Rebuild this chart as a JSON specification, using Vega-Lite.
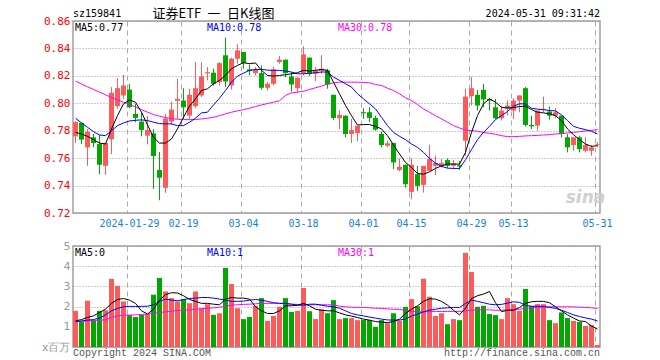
{
"$schema": "https://vega.github.io/schema/vega-lite/v6.json",
"background": "white",
"padding": {"left": 40, "top": 6, "right": 5, "bottom": 5},
"spacing": 10,
"config": {
  "view": {"stroke": "#a0a0a0", "strokeWidth": 1.5},
  "axis": {"title": null, "ticks": false, "domain": false, "labelOverlap": false, "labelBound": false}
},
"data": {"values": [
{"d":"2024-01-16","o":0.7759,"h":0.787,"l":0.771,"c":0.7862,"v":1.79,"m5":0.7788,"m10":0.7891,"m30":0.8162,"a5":1.29,"a10":1.26,"a30":1.26},
{"d":"2024-01-17","o":0.7857,"h":0.786,"l":0.7703,"c":0.7735,"v":1.26,"m5":0.7776,"m10":0.7857,"m30":0.814,"a5":1.36,"a10":1.29,"a30":1.28},
{"d":"2024-01-18","o":0.7679,"h":0.7813,"l":0.7544,"c":0.7793,"v":2.29,"m5":0.7759,"m10":0.7825,"m30":0.812,"a5":1.46,"a10":1.33,"a30":1.29},
{"d":"2024-01-19","o":0.7752,"h":0.7776,"l":0.7679,"c":0.771,"v":1.33,"m5":0.7735,"m10":0.7793,"m30":0.8101,"a5":1.54,"a10":1.36,"a30":1.31},
{"d":"2024-01-22","o":0.7703,"h":0.7769,"l":0.7483,"c":0.7552,"v":1.79,"m5":0.771,"m10":0.7769,"m30":0.8081,"a5":1.71,"a10":1.43,"a30":1.33},
{"d":"2024-01-23","o":0.7544,"h":0.7712,"l":0.7479,"c":0.771,"v":1.82,"m5":0.7703,"m10":0.7764,"m30":0.8062,"a5":1.87,"a10":1.59,"a30":1.34},
{"d":"2024-01-24","o":0.7738,"h":0.8118,"l":0.763,"c":0.8076,"v":3.37,"m5":0.7813,"m10":0.78,"m30":0.8042,"a5":2.16,"a10":1.79,"a30":1.46},
{"d":"2024-01-25","o":0.7979,"h":0.8184,"l":0.796,"c":0.811,"v":3.03,"m5":0.791,"m10":0.7837,"m30":0.8025,"a5":2.35,"a10":1.91,"a30":1.54},
{"d":"2024-01-26","o":0.8057,"h":0.8208,"l":0.8032,"c":0.813,"v":2.26,"m5":0.7996,"m10":0.7857,"m30":0.8008,"a5":2.4,"a10":1.99,"a30":1.58},
{"d":"2024-01-29","o":0.81,"h":0.8142,"l":0.7964,"c":0.7971,"v":1.58,"m5":0.8025,"m10":0.7871,"m30":0.7991,"a5":2.32,"a10":2.01,"a30":1.58},
{"d":"2024-01-30","o":0.7923,"h":0.7996,"l":0.7862,"c":0.7893,"v":1.49,"m5":0.8008,"m10":0.7876,"m30":0.7974,"a5":2.16,"a10":2.01,"a30":1.59},
{"d":"2024-01-31","o":0.7866,"h":0.7935,"l":0.7759,"c":0.7805,"v":1.59,"m5":0.7935,"m10":0.7879,"m30":0.7954,"a5":1.79,"a10":2.01,"a30":1.61},
{"d":"2024-02-01","o":0.7764,"h":0.7908,"l":0.7701,"c":0.7805,"v":1.63,"m5":0.7842,"m10":0.7874,"m30":0.7935,"a5":1.63,"a10":2.02,"a30":1.63},
{"d":"2024-02-02","o":0.7781,"h":0.7813,"l":0.7376,"c":0.7615,"v":2.59,"m5":0.7752,"m10":0.7862,"m30":0.7918,"a5":1.87,"a10":2.09,"a30":1.67},
{"d":"2024-02-05","o":0.7513,"h":0.7645,"l":0.7293,"c":0.7457,"v":3.42,"m5":0.771,"m10":0.7852,"m30":0.7906,"a5":2.32,"a10":2.26,"a30":1.71},
{"d":"2024-02-06","o":0.7383,"h":0.7922,"l":0.7347,"c":0.7889,"v":2.75,"m5":0.771,"m10":0.785,"m30":0.7896,"a5":2.59,"a10":2.37,"a30":1.74},
{"d":"2024-02-07","o":0.7866,"h":0.8013,"l":0.7842,"c":0.7954,"v":2.42,"m5":0.774,"m10":0.785,"m30":0.7888,"a5":2.69,"a10":2.32,"a30":1.77},
{"d":"2024-02-08","o":0.8018,"h":0.8179,"l":0.7886,"c":0.8032,"v":2.26,"m5":0.7813,"m10":0.7837,"m30":0.7884,"a5":2.67,"a10":2.29,"a30":1.81},
{"d":"2024-02-19","o":0.802,"h":0.811,"l":0.7886,"c":0.7971,"v":2.37,"m5":0.7898,"m10":0.7837,"m30":0.7881,"a5":2.54,"a10":2.35,"a30":1.82},
{"d":"2024-02-20","o":0.791,"h":0.8106,"l":0.7886,"c":0.8062,"v":2.17,"m5":0.7979,"m10":0.7862,"m30":0.7881,"a5":2.35,"a10":2.4,"a30":1.84},
{"d":"2024-02-21","o":0.7979,"h":0.83,"l":0.7964,"c":0.811,"v":2.75,"m5":0.8032,"m10":0.7891,"m30":0.7881,"a5":2.26,"a10":2.42,"a30":1.87},
{"d":"2024-02-22","o":0.8057,"h":0.83,"l":0.8045,"c":0.8196,"v":1.91,"m5":0.8093,"m10":0.793,"m30":0.7886,"a5":2.16,"a10":2.45,"a30":1.89},
{"d":"2024-02-23","o":0.8218,"h":0.8264,"l":0.8167,"c":0.8227,"v":2.12,"m5":0.8106,"m10":0.7935,"m30":0.7891,"a5":2.16,"a10":2.45,"a30":1.92},
{"d":"2024-02-26","o":0.8223,"h":0.8252,"l":0.813,"c":0.8142,"v":1.59,"m5":0.8142,"m10":0.7988,"m30":0.7898,"a5":2.12,"a10":2.42,"a30":1.94},
{"d":"2024-02-27","o":0.8154,"h":0.83,"l":0.813,"c":0.8293,"v":1.67,"m5":0.8167,"m10":0.8037,"m30":0.791,"a5":2.09,"a10":2.37,"a30":1.97},
{"d":"2024-02-28","o":0.835,"h":0.8479,"l":0.8118,"c":0.8159,"v":3.91,"m5":0.8203,"m10":0.8093,"m30":0.7923,"a5":2.37,"a10":2.32,"a30":2.02},
{"d":"2024-02-29","o":0.813,"h":0.8333,"l":0.81,"c":0.8325,"v":3.12,"m5":0.8252,"m10":0.8154,"m30":0.7935,"a5":2.45,"a10":2.26,"a30":2.07},
{"d":"2024-03-01","o":0.8325,"h":0.843,"l":0.8289,"c":0.8386,"v":1.92,"m5":0.8276,"m10":0.8198,"m30":0.7945,"a5":2.42,"a10":2.26,"a30":2.09},
{"d":"2024-03-04","o":0.8374,"h":0.8374,"l":0.8252,"c":0.8293,"v":1.38,"m5":0.8296,"m10":0.822,"m30":0.7954,"a5":2.42,"a10":2.27,"a30":2.11},
{"d":"2024-03-05","o":0.8247,"h":0.8281,"l":0.8203,"c":0.8235,"v":1.49,"m5":0.8289,"m10":0.824,"m30":0.7964,"a5":2.37,"a10":2.32,"a30":2.12},
{"d":"2024-03-06","o":0.822,"h":0.8264,"l":0.8203,"c":0.8247,"v":2.04,"m5":0.8294,"m10":0.8247,"m30":0.7976,"a5":1.99,"a10":2.35,"a30":2.14},
{"d":"2024-03-07","o":0.822,"h":0.8276,"l":0.81,"c":0.8113,"v":2.42,"m5":0.824,"m10":0.8247,"m30":0.7988,"a5":1.79,"a10":2.32,"a30":2.16},
{"d":"2024-03-08","o":0.8113,"h":0.8154,"l":0.8093,"c":0.8142,"v":1.29,"m5":0.8203,"m10":0.8242,"m30":0.7998,"a5":1.66,"a10":2.26,"a30":2.16},
{"d":"2024-03-11","o":0.8142,"h":0.8264,"l":0.813,"c":0.8247,"v":1.54,"m5":0.8198,"m10":0.824,"m30":0.8008,"a5":1.66,"a10":2.19,"a30":2.16},
{"d":"2024-03-12","o":0.8301,"h":0.8345,"l":0.8289,"c":0.8318,"v":1.99,"m5":0.8203,"m10":0.824,"m30":0.8018,"a5":1.79,"a10":2.16,"a30":2.16},
{"d":"2024-03-13","o":0.8318,"h":0.8318,"l":0.819,"c":0.822,"v":2.42,"m5":0.8208,"m10":0.8235,"m30":0.8057,"a5":2.04,"a10":2.16,"a30":2.14},
{"d":"2024-03-14","o":0.8196,"h":0.8228,"l":0.8086,"c":0.8137,"v":1.74,"m5":0.8215,"m10":0.8228,"m30":0.8076,"a5":2.04,"a10":2.12,"a30":2.12},
{"d":"2024-03-15","o":0.811,"h":0.8191,"l":0.8076,"c":0.8186,"v":1.79,"m5":0.8223,"m10":0.8215,"m30":0.8081,"a5":2.07,"a10":2.07,"a30":2.11},
{"d":"2024-03-18","o":0.822,"h":0.8415,"l":0.8203,"c":0.8357,"v":2.92,"m5":0.824,"m10":0.8215,"m30":0.8088,"a5":2.16,"a10":2.07,"a30":2.09},
{"d":"2024-03-19","o":0.8333,"h":0.8333,"l":0.8198,"c":0.8215,"v":1.77,"m5":0.8235,"m10":0.8218,"m30":0.8101,"a5":2.04,"a10":2.12,"a30":2.09},
{"d":"2024-03-20","o":0.8215,"h":0.8264,"l":0.816,"c":0.824,"v":1.38,"m5":0.824,"m10":0.8223,"m30":0.8113,"a5":1.87,"a10":2.12,"a30":2.09},
{"d":"2024-03-21","o":0.8235,"h":0.835,"l":0.8215,"c":0.8252,"v":1.87,"m5":0.8247,"m10":0.8228,"m30":0.8125,"a5":1.82,"a10":2.07,"a30":2.09},
{"d":"2024-03-22","o":0.824,"h":0.8252,"l":0.8106,"c":0.8137,"v":1.67,"m5":0.824,"m10":0.8228,"m30":0.814,"a5":1.79,"a10":2.02,"a30":2.09},
{"d":"2024-03-25","o":0.8062,"h":0.8062,"l":0.7879,"c":0.7893,"v":2.32,"m5":0.8154,"m10":0.8191,"m30":0.8149,"a5":1.79,"a10":1.99,"a30":2.09},
{"d":"2024-03-26","o":0.7891,"h":0.7947,"l":0.7813,"c":0.7915,"v":1.38,"m5":0.8069,"m10":0.8167,"m30":0.8154,"a5":1.69,"a10":1.92,"a30":2.02},
{"d":"2024-03-27","o":0.791,"h":0.791,"l":0.7752,"c":0.7776,"v":1.43,"m5":0.7984,"m10":0.8142,"m30":0.8154,"a5":1.59,"a10":1.79,"a30":1.99},
{"d":"2024-03-28","o":0.7776,"h":0.7886,"l":0.771,"c":0.7805,"v":1.43,"m5":0.791,"m10":0.8118,"m30":0.8154,"a5":1.53,"a10":1.66,"a30":1.97},
{"d":"2024-03-29","o":0.7783,"h":0.7837,"l":0.7723,"c":0.7837,"v":1.33,"m5":0.7842,"m10":0.8069,"m30":0.8154,"a5":1.46,"a10":1.59,"a30":1.96},
{"d":"2024-04-01","o":0.7935,"h":0.7964,"l":0.7886,"c":0.7927,"v":1.34,"m5":0.7845,"m10":0.8032,"m30":0.8152,"a5":1.38,"a10":1.54,"a30":1.96},
{"d":"2024-04-02","o":0.7935,"h":0.7971,"l":0.7862,"c":0.7893,"v":1.34,"m5":0.7845,"m10":0.7996,"m30":0.8149,"a5":1.33,"a10":1.48,"a30":1.94},
{"d":"2024-04-03","o":0.7893,"h":0.791,"l":0.78,"c":0.7808,"v":1.0,"m5":0.7832,"m10":0.7959,"m30":0.8137,"a5":1.26,"a10":1.43,"a30":1.92},
{"d":"2024-04-08","o":0.7776,"h":0.7793,"l":0.7679,"c":0.7696,"v":1.33,"m5":0.7813,"m10":0.7898,"m30":0.813,"a5":1.23,"a10":1.38,"a30":1.91},
{"d":"2024-04-09","o":0.7691,"h":0.7727,"l":0.7679,"c":0.7708,"v":1.18,"m5":0.7764,"m10":0.7837,"m30":0.811,"a5":1.21,"a10":1.34,"a30":1.89},
{"d":"2024-04-10","o":0.771,"h":0.771,"l":0.752,"c":0.7569,"v":1.67,"m5":0.7696,"m10":0.7788,"m30":0.8093,"a5":1.26,"a10":1.33,"a30":1.87},
{"d":"2024-04-11","o":0.7513,"h":0.7598,"l":0.7503,"c":0.7537,"v":1.29,"m5":0.763,"m10":0.7759,"m30":0.8069,"a5":1.38,"a10":1.33,"a30":1.86},
{"d":"2024-04-12","o":0.7552,"h":0.7552,"l":0.7386,"c":0.741,"v":1.99,"m5":0.7569,"m10":0.7735,"m30":0.804,"a5":1.66,"a10":1.39,"a30":1.81},
{"d":"2024-04-15","o":0.7354,"h":0.7598,"l":0.73,"c":0.7552,"v":2.37,"m5":0.7532,"m10":0.7703,"m30":0.802,"a5":1.87,"a10":1.53,"a30":1.77},
{"d":"2024-04-16","o":0.7483,"h":0.7544,"l":0.7361,"c":0.7398,"v":2.02,"m5":0.7488,"m10":0.7679,"m30":0.7991,"a5":2.04,"a10":1.63,"a30":1.74},
{"d":"2024-04-17","o":0.7405,"h":0.7544,"l":0.7349,"c":0.7544,"v":3.38,"m5":0.7483,"m10":0.7642,"m30":0.7959,"a5":2.26,"a10":1.74,"a30":1.74},
{"d":"2024-04-18","o":0.7508,"h":0.7696,"l":0.7503,"c":0.7593,"v":2.49,"m5":0.75,"m10":0.7598,"m30":0.7935,"a5":2.39,"a10":1.82,"a30":1.76},
{"d":"2024-04-19","o":0.7544,"h":0.7618,"l":0.7476,"c":0.7564,"v":1.54,"m5":0.7525,"m10":0.7564,"m30":0.791,"a5":2.37,"a10":1.87,"a30":1.76},
{"d":"2024-04-22","o":0.7544,"h":0.7593,"l":0.7532,"c":0.7564,"v":1.67,"m5":0.7544,"m10":0.754,"m30":0.7886,"a5":2.26,"a10":1.92,"a30":1.76},
{"d":"2024-04-23","o":0.7586,"h":0.7598,"l":0.7527,"c":0.7544,"v":1.13,"m5":0.7557,"m10":0.7527,"m30":0.7862,"a5":2.07,"a10":1.94,"a30":1.76},
{"d":"2024-04-24","o":0.7544,"h":0.7588,"l":0.752,"c":0.7561,"v":1.38,"m5":0.7557,"m10":0.7525,"m30":0.7837,"a5":1.82,"a10":1.96,"a30":1.76},
{"d":"2024-04-25","o":0.7549,"h":0.758,"l":0.7515,"c":0.7539,"v":1.33,"m5":0.7557,"m10":0.7525,"m30":0.782,"a5":1.59,"a10":1.96,"a30":1.76},
{"d":"2024-04-26","o":0.7727,"h":0.8105,"l":0.7618,"c":0.8049,"v":4.66,"m5":0.7642,"m10":0.7588,"m30":0.7805,"a5":1.92,"a10":2.16,"a30":1.79},
{"d":"2024-04-29","o":0.8052,"h":0.8191,"l":0.7984,"c":0.811,"v":3.71,"m5":0.7788,"m10":0.7662,"m30":0.78,"a5":2.4,"a10":2.32,"a30":1.82},
{"d":"2024-04-30","o":0.8062,"h":0.8098,"l":0.7947,"c":0.7984,"v":1.99,"m5":0.791,"m10":0.7735,"m30":0.7796,"a5":2.54,"a10":2.26,"a30":1.84},
{"d":"2024-05-06","o":0.8098,"h":0.8142,"l":0.7971,"c":0.8028,"v":2.04,"m5":0.7996,"m10":0.7788,"m30":0.7788,"a5":2.62,"a10":2.19,"a30":1.84},
{"d":"2024-05-07","o":0.8032,"h":0.8037,"l":0.7947,"c":0.802,"v":1.63,"m5":0.8032,"m10":0.7832,"m30":0.7781,"a5":2.75,"a10":2.12,"a30":1.84},
{"d":"2024-05-08","o":0.7971,"h":0.8032,"l":0.7886,"c":0.7891,"v":1.58,"m5":0.8008,"m10":0.7881,"m30":0.7774,"a5":2.19,"a10":2.09,"a30":1.82},
{"d":"2024-05-09","o":0.7891,"h":0.7979,"l":0.7874,"c":0.7947,"v":1.38,"m5":0.7971,"m10":0.791,"m30":0.7764,"a5":1.75,"a10":2.11,"a30":1.82},
{"d":"2024-05-10","o":0.796,"h":0.802,"l":0.791,"c":0.7984,"v":2.42,"m5":0.7966,"m10":0.794,"m30":0.7757,"a5":1.82,"a10":2.17,"a30":1.84},
{"d":"2024-05-13","o":0.7947,"h":0.8037,"l":0.7886,"c":0.802,"v":2.12,"m5":0.7969,"m10":0.7979,"m30":0.7757,"a5":1.82,"a10":2.24,"a30":1.86},
{"d":"2024-05-14","o":0.802,"h":0.8057,"l":0.7935,"c":0.8057,"v":1.79,"m5":0.7976,"m10":0.7996,"m30":0.7759,"a5":1.96,"a10":2.21,"a30":1.87},
{"d":"2024-05-15","o":0.811,"h":0.8118,"l":0.7832,"c":0.7842,"v":2.87,"m5":0.7979,"m10":0.7996,"m30":0.7762,"a5":2.16,"a10":2.07,"a30":1.91},
{"d":"2024-05-16","o":0.7842,"h":0.791,"l":0.7813,"c":0.7832,"v":2.04,"m5":0.7954,"m10":0.7964,"m30":0.7764,"a5":2.24,"a10":2.01,"a30":1.94},
{"d":"2024-05-17","o":0.7837,"h":0.7947,"l":0.78,"c":0.7947,"v":2.12,"m5":0.7935,"m10":0.7957,"m30":0.7766,"a5":2.26,"a10":2.02,"a30":1.96},
{"d":"2024-05-20","o":0.7954,"h":0.8049,"l":0.7935,"c":0.7959,"v":2.12,"m5":0.793,"m10":0.7954,"m30":0.7769,"a5":2.26,"a10":2.01,"a30":1.97},
{"d":"2024-05-21","o":0.794,"h":0.7976,"l":0.7881,"c":0.791,"v":1.33,"m5":0.7923,"m10":0.7947,"m30":0.7771,"a5":2.19,"a10":1.96,"a30":1.99},
{"d":"2024-05-22","o":0.791,"h":0.7964,"l":0.7891,"c":0.7935,"v":1.18,"m5":0.791,"m10":0.7945,"m30":0.7776,"a5":1.99,"a10":1.91,"a30":1.99},
{"d":"2024-05-23","o":0.791,"h":0.791,"l":0.7752,"c":0.7776,"v":1.71,"m5":0.7874,"m10":0.7915,"m30":0.7779,"a5":1.79,"a10":1.82,"a30":1.99},
{"d":"2024-05-24","o":0.7752,"h":0.7776,"l":0.7642,"c":0.7679,"v":1.43,"m5":0.7813,"m10":0.7874,"m30":0.7784,"a5":1.59,"a10":1.71,"a30":1.99},
{"d":"2024-05-27","o":0.7696,"h":0.7752,"l":0.7654,"c":0.7752,"v":1.29,"m5":0.7771,"m10":0.7832,"m30":0.7788,"a5":1.43,"a10":1.59,"a30":1.99},
{"d":"2024-05-28","o":0.7752,"h":0.7764,"l":0.7642,"c":0.7666,"v":1.24,"m5":0.7735,"m10":0.7818,"m30":0.7793,"a5":1.29,"a10":1.51,"a30":1.97},
{"d":"2024-05-29","o":0.7654,"h":0.7752,"l":0.7642,"c":0.7696,"v":1.04,"m5":0.7703,"m10":0.7808,"m30":0.7798,"a5":1.26,"a10":1.44,"a30":1.96},
{"d":"2024-05-30","o":0.7654,"h":0.7696,"l":0.7618,"c":0.7679,"v":1.09,"m5":0.7686,"m10":0.7796,"m30":0.7803,"a5":1.04,"a10":1.38,"a30":1.94},
{"d":"2024-05-31","o":0.7696,"h":0.7715,"l":0.7679,"c":0.7701,"v":0.1,"m5":0.7691,"m10":0.7776,"m30":0.7808,"a5":0.88,"a10":1.29,"a30":1.91}
]},
"vconcat": [
{
  "width": 527,
  "height": 192,
  "encoding": {
    "x": {"field": "d", "type": "ordinal", "sort": null,
      "scale": {"type": "band", "paddingInner": 0.1667, "paddingOuter": 0},
      "axis": {"values": ["2024-01-29","2024-02-19","2024-03-04","2024-03-18","2024-04-01","2024-04-15","2024-04-29","2024-05-13","2024-05-31"],
        "bandPosition": 0.1, "grid": true, "gridColor": "#aaaaaa", "gridDash": [5, 4], "gridWidth": 1, "labelOverlap": false,
        "labelAngle": 0, "labelColor": "#1a80d0", "labelFont": "DejaVu Sans Mono", "labelFontSize": 10, "labelPadding": 5,
        "labelExpr": "datum.value == '2024-01-29' ? datum.value : slice(datum.value, 5)"}
    }
  },
  "layer": [
    {"mark": {"type": "rule", "strokeWidth": 1},
     "encoding": {
       "y": {"field": "l", "type": "quantitative",
         "scale": {"domain": [0.72, 0.86], "nice": false, "zero": false},
         "axis": {"values": [0.72, 0.74, 0.76, 0.78, 0.8, 0.82, 0.84, 0.86], "tickCount": 10, "format": ".2f", "grid": true, "labelOverlap": false, "gridColor": "#999999", "gridDash": [1, 2], "labelColor": "#ff0000", "labelFont": "DejaVu Sans Mono", "labelFontSize": 11, "labelPadding": 3}},
       "y2": {"field": "h"},
       "color": {"condition": {"test": "datum.c >= datum.o", "value": "#ff5a5a"}, "value": "#00a800"}
     }},
    {"mark": {"type": "bar"},
     "encoding": {
       "y": {"field": "o", "type": "quantitative",
         "axis": {"values": [0.72, 0.74, 0.76, 0.78, 0.8, 0.82, 0.84, 0.86], "tickCount": 10, "format": ".2f", "grid": true, "labelOverlap": false, "gridColor": "#999999", "gridDash": [1, 2], "labelColor": "#ff0000", "labelFont": "DejaVu Sans Mono", "labelFontSize": 11, "labelPadding": 3}},
       "y2": {"field": "c"},
       "color": {"condition": {"test": "datum.c >= datum.o", "value": "#ff5a5a"}, "value": "#00a800"}
     }},
    {"mark": {"type": "line", "strokeWidth": 1, "color": "#ff00ff"},
     "encoding": {"y": {"field": "m30", "type": "quantitative",
         "axis": {"values": [0.72, 0.74, 0.76, 0.78, 0.8, 0.82, 0.84, 0.86], "tickCount": 10, "format": ".2f", "grid": true, "labelOverlap": false, "gridColor": "#999999", "gridDash": [1, 2], "labelColor": "#ff0000", "labelFont": "DejaVu Sans Mono", "labelFontSize": 11, "labelPadding": 3}}}},
    {"mark": {"type": "line", "strokeWidth": 1, "color": "#0000ff"},
     "encoding": {"y": {"field": "m10", "type": "quantitative",
         "axis": {"values": [0.72, 0.74, 0.76, 0.78, 0.8, 0.82, 0.84, 0.86], "tickCount": 10, "format": ".2f", "grid": true, "labelOverlap": false, "gridColor": "#999999", "gridDash": [1, 2], "labelColor": "#ff0000", "labelFont": "DejaVu Sans Mono", "labelFontSize": 11, "labelPadding": 3}}}},
    {"mark": {"type": "line", "strokeWidth": 1, "color": "#000000"},
     "encoding": {"y": {"field": "m5", "type": "quantitative",
         "axis": {"values": [0.72, 0.74, 0.76, 0.78, 0.8, 0.82, 0.84, 0.86], "tickCount": 10, "format": ".2f", "grid": true, "labelOverlap": false, "gridColor": "#999999", "gridDash": [1, 2], "labelColor": "#ff0000", "labelFont": "DejaVu Sans Mono", "labelFontSize": 11, "labelPadding": 3}}}},
    {"data": {"values": [{}]},
     "mark": {"type": "text", "text": "sina", "fontStyle": "italic", "fontWeight": "bold", "fontSize": 17, "font": "DejaVu Sans", "color": "#d0d0d0", "align": "center", "baseline": "middle"},
     "encoding": {"x": {"datum": "2024-05-29", "type": "ordinal"}, "y": {"datum": 0.731, "type": "quantitative",
         "axis": {"values": [0.72, 0.74, 0.76, 0.78, 0.8, 0.82, 0.84, 0.86], "tickCount": 10, "format": ".2f", "grid": true, "labelOverlap": false, "gridColor": "#999999", "gridDash": [1, 2], "labelColor": "#ff0000", "labelFont": "DejaVu Sans Mono", "labelFontSize": 11, "labelPadding": 3}}}},
    {"data": {"values": [{}]},
     "mark": {"type": "text", "text": "MA5:0.77", "font": "DejaVu Sans Mono", "fontSize": 10, "color": "#000000", "align": "left", "baseline": "middle", "dx": -0.5, "dy": 7},
     "encoding": {"x": {"datum": "2024-01-16", "type": "ordinal"}, "y": {"datum": 0.86, "type": "quantitative",
         "axis": {"values": [0.72, 0.74, 0.76, 0.78, 0.8, 0.82, 0.84, 0.86], "tickCount": 10, "format": ".2f", "grid": true, "labelOverlap": false, "gridColor": "#999999", "gridDash": [1, 2], "labelColor": "#ff0000", "labelFont": "DejaVu Sans Mono", "labelFontSize": 11, "labelPadding": 3}}}},
    {"data": {"values": [{}]},
     "mark": {"type": "text", "text": "MA10:0.78", "font": "DejaVu Sans Mono", "fontSize": 10, "color": "#0000ff", "align": "left", "baseline": "middle", "dx": -0.5, "dy": 7},
     "encoding": {"x": {"datum": "2024-02-23", "type": "ordinal"}, "y": {"datum": 0.86, "type": "quantitative",
         "axis": {"values": [0.72, 0.74, 0.76, 0.78, 0.8, 0.82, 0.84, 0.86], "tickCount": 10, "format": ".2f", "grid": true, "labelOverlap": false, "gridColor": "#999999", "gridDash": [1, 2], "labelColor": "#ff0000", "labelFont": "DejaVu Sans Mono", "labelFontSize": 11, "labelPadding": 3}}}},
    {"data": {"values": [{}]},
     "mark": {"type": "text", "text": "MA30:0.78", "font": "DejaVu Sans Mono", "fontSize": 10, "color": "#ff00ff", "align": "left", "baseline": "middle", "dx": -1.5, "dy": 7},
     "encoding": {"x": {"datum": "2024-03-26", "type": "ordinal"}, "y": {"datum": 0.86, "type": "quantitative",
         "axis": {"values": [0.72, 0.74, 0.76, 0.78, 0.8, 0.82, 0.84, 0.86], "tickCount": 10, "format": ".2f", "grid": true, "labelOverlap": false, "gridColor": "#999999", "gridDash": [1, 2], "labelColor": "#ff0000", "labelFont": "DejaVu Sans Mono", "labelFontSize": 11, "labelPadding": 3}}}},
    {"data": {"values": [{}]},
     "mark": {"type": "text", "text": "sz159841", "font": "DejaVu Sans Mono", "fontSize": 10, "color": "#000000", "align": "left", "baseline": "middle", "dx": -2.5, "dy": -7},
     "encoding": {"x": {"datum": "2024-01-16", "type": "ordinal"}, "y": {"datum": 0.86, "type": "quantitative",
         "axis": {"values": [0.72, 0.74, 0.76, 0.78, 0.8, 0.82, 0.84, 0.86], "tickCount": 10, "format": ".2f", "grid": true, "labelOverlap": false, "gridColor": "#999999", "gridDash": [1, 2], "labelColor": "#ff0000", "labelFont": "DejaVu Sans Mono", "labelFontSize": 11, "labelPadding": 3}}}},
    {"data": {"values": [{}]},
     "mark": {"type": "text", "text": "证券ETF\u2002一\u2002日K线图", "font": "Noto Sans CJK SC", "fontSize": 13, "color": "#000000", "align": "left", "baseline": "middle", "dx": -1, "dy": -7.5},
     "encoding": {"x": {"datum": "2024-02-02", "type": "ordinal"}, "y": {"datum": 0.86, "type": "quantitative",
         "axis": {"values": [0.72, 0.74, 0.76, 0.78, 0.8, 0.82, 0.84, 0.86], "tickCount": 10, "format": ".2f", "grid": true, "labelOverlap": false, "gridColor": "#999999", "gridDash": [1, 2], "labelColor": "#ff0000", "labelFont": "DejaVu Sans Mono", "labelFontSize": 11, "labelPadding": 3}}}},
    {"data": {"values": [{}]},
     "mark": {"type": "text", "text": "2024-05-31 09:31:42", "font": "DejaVu Sans Mono", "fontSize": 10, "color": "#000000", "align": "right", "baseline": "middle", "dx": 2.5, "dy": -7},
     "encoding": {"x": {"datum": "2024-05-31", "type": "ordinal"}, "y": {"datum": 0.86, "type": "quantitative",
         "axis": {"values": [0.72, 0.74, 0.76, 0.78, 0.8, 0.82, 0.84, 0.86], "tickCount": 10, "format": ".2f", "grid": true, "labelOverlap": false, "gridColor": "#999999", "gridDash": [1, 2], "labelColor": "#ff0000", "labelFont": "DejaVu Sans Mono", "labelFontSize": 11, "labelPadding": 3}}}}
  ]
},
{
  "width": 527,
  "height": 101,
  "encoding": {
    "x": {"field": "d", "type": "ordinal", "sort": null,
      "scale": {"type": "band", "paddingInner": 0.1667, "paddingOuter": 0},
      "axis": {"values": ["2024-01-29","2024-02-19","2024-03-04","2024-03-18","2024-04-01","2024-04-15","2024-04-29","2024-05-13","2024-05-31"],
        "bandPosition": 0.1, "grid": true, "gridColor": "#aaaaaa", "gridDash": [5, 4], "gridWidth": 1, "labels": false}
    }
  },
  "layer": [
    {"mark": {"type": "bar"},
     "encoding": {
       "y": {"field": "v", "type": "quantitative",
         "scale": {"domain": [0, 5], "nice": false},
         "axis": {"values": [0, 1, 2, 3, 4, 5], "tickCount": 10, "format": "d", "grid": true, "gridColor": "#999999", "gridDash": [1, 2], "labelOverlap": false, "labelColor": "#999999", "labelFont": "DejaVu Sans", "labelFontSize": 11, "labelPadding": 3, "labelExpr": "datum.value == 0 ? 'x百万' : datum.label"}},
       "color": {"condition": {"test": "datum.c >= datum.o", "value": "#ff5a5a"}, "value": "#00a800"}
     }},
    {"mark": {"type": "line", "strokeWidth": 1, "color": "#ff00ff"},
     "encoding": {"y": {"field": "a30", "type": "quantitative",
         "axis": {"values": [0, 1, 2, 3, 4, 5], "tickCount": 10, "format": "d", "grid": true, "gridColor": "#999999", "gridDash": [1, 2], "labelOverlap": false, "labelColor": "#999999", "labelFont": "DejaVu Sans", "labelFontSize": 11, "labelPadding": 3, "labelExpr": "datum.value == 0 ? 'x百万' : datum.label"}}}},
    {"mark": {"type": "line", "strokeWidth": 1, "color": "#0000ff"},
     "encoding": {"y": {"field": "a10", "type": "quantitative",
         "axis": {"values": [0, 1, 2, 3, 4, 5], "tickCount": 10, "format": "d", "grid": true, "gridColor": "#999999", "gridDash": [1, 2], "labelOverlap": false, "labelColor": "#999999", "labelFont": "DejaVu Sans", "labelFontSize": 11, "labelPadding": 3, "labelExpr": "datum.value == 0 ? 'x百万' : datum.label"}}}},
    {"mark": {"type": "line", "strokeWidth": 1, "color": "#000000"},
     "encoding": {"y": {"field": "a5", "type": "quantitative",
         "axis": {"values": [0, 1, 2, 3, 4, 5], "tickCount": 10, "format": "d", "grid": true, "gridColor": "#999999", "gridDash": [1, 2], "labelOverlap": false, "labelColor": "#999999", "labelFont": "DejaVu Sans", "labelFontSize": 11, "labelPadding": 3, "labelExpr": "datum.value == 0 ? 'x百万' : datum.label"}}}},
    {"data": {"values": [{}]},
     "mark": {"type": "text", "text": "MA5:0", "font": "DejaVu Sans Mono", "fontSize": 10, "color": "#000000", "align": "left", "baseline": "middle", "dx": -0.5, "dy": 7},
     "encoding": {"x": {"datum": "2024-01-16", "type": "ordinal"}, "y": {"datum": 5, "type": "quantitative",
         "axis": {"values": [0, 1, 2, 3, 4, 5], "tickCount": 10, "format": "d", "grid": true, "gridColor": "#999999", "gridDash": [1, 2], "labelOverlap": false, "labelColor": "#999999", "labelFont": "DejaVu Sans", "labelFontSize": 11, "labelPadding": 3, "labelExpr": "datum.value == 0 ? 'x百万' : datum.label"}}}},
    {"data": {"values": [{}]},
     "mark": {"type": "text", "text": "MA10:1", "font": "DejaVu Sans Mono", "fontSize": 10, "color": "#0000ff", "align": "left", "baseline": "middle", "dx": -0.5, "dy": 7},
     "encoding": {"x": {"datum": "2024-02-23", "type": "ordinal"}, "y": {"datum": 5, "type": "quantitative",
         "axis": {"values": [0, 1, 2, 3, 4, 5], "tickCount": 10, "format": "d", "grid": true, "gridColor": "#999999", "gridDash": [1, 2], "labelOverlap": false, "labelColor": "#999999", "labelFont": "DejaVu Sans", "labelFontSize": 11, "labelPadding": 3, "labelExpr": "datum.value == 0 ? 'x百万' : datum.label"}}}},
    {"data": {"values": [{}]},
     "mark": {"type": "text", "text": "MA30:1", "font": "DejaVu Sans Mono", "fontSize": 10, "color": "#ff00ff", "align": "left", "baseline": "middle", "dx": -1.5, "dy": 7},
     "encoding": {"x": {"datum": "2024-03-26", "type": "ordinal"}, "y": {"datum": 5, "type": "quantitative",
         "axis": {"values": [0, 1, 2, 3, 4, 5], "tickCount": 10, "format": "d", "grid": true, "gridColor": "#999999", "gridDash": [1, 2], "labelOverlap": false, "labelColor": "#999999", "labelFont": "DejaVu Sans", "labelFontSize": 11, "labelPadding": 3, "labelExpr": "datum.value == 0 ? 'x百万' : datum.label"}}}},
    {"data": {"values": [{}]},
     "mark": {"type": "text", "text": "Copyright 2024 SINA.COM", "font": "Liberation Mono", "fontSize": 10, "color": "#555555", "align": "left", "baseline": "top", "dx": -2.5, "dy": 1},
     "encoding": {"x": {"datum": "2024-01-16", "type": "ordinal"}, "y": {"datum": 0, "type": "quantitative",
         "axis": {"values": [0, 1, 2, 3, 4, 5], "tickCount": 10, "format": "d", "grid": true, "gridColor": "#999999", "gridDash": [1, 2], "labelOverlap": false, "labelColor": "#999999", "labelFont": "DejaVu Sans", "labelFontSize": 11, "labelPadding": 3, "labelExpr": "datum.value == 0 ? 'x百万' : datum.label"}}}},
    {"data": {"values": [{}]},
     "mark": {"type": "text", "text": "http://finance.sina.com.cn", "font": "Liberation Mono", "fontSize": 10, "color": "#555555", "align": "right", "baseline": "top", "dx": 2.5, "dy": 1},
     "encoding": {"x": {"datum": "2024-05-31", "type": "ordinal"}, "y": {"datum": 0, "type": "quantitative",
         "axis": {"values": [0, 1, 2, 3, 4, 5], "tickCount": 10, "format": "d", "grid": true, "gridColor": "#999999", "gridDash": [1, 2], "labelOverlap": false, "labelColor": "#999999", "labelFont": "DejaVu Sans", "labelFontSize": 11, "labelPadding": 3, "labelExpr": "datum.value == 0 ? 'x百万' : datum.label"}}}}
  ]
}
]
}
